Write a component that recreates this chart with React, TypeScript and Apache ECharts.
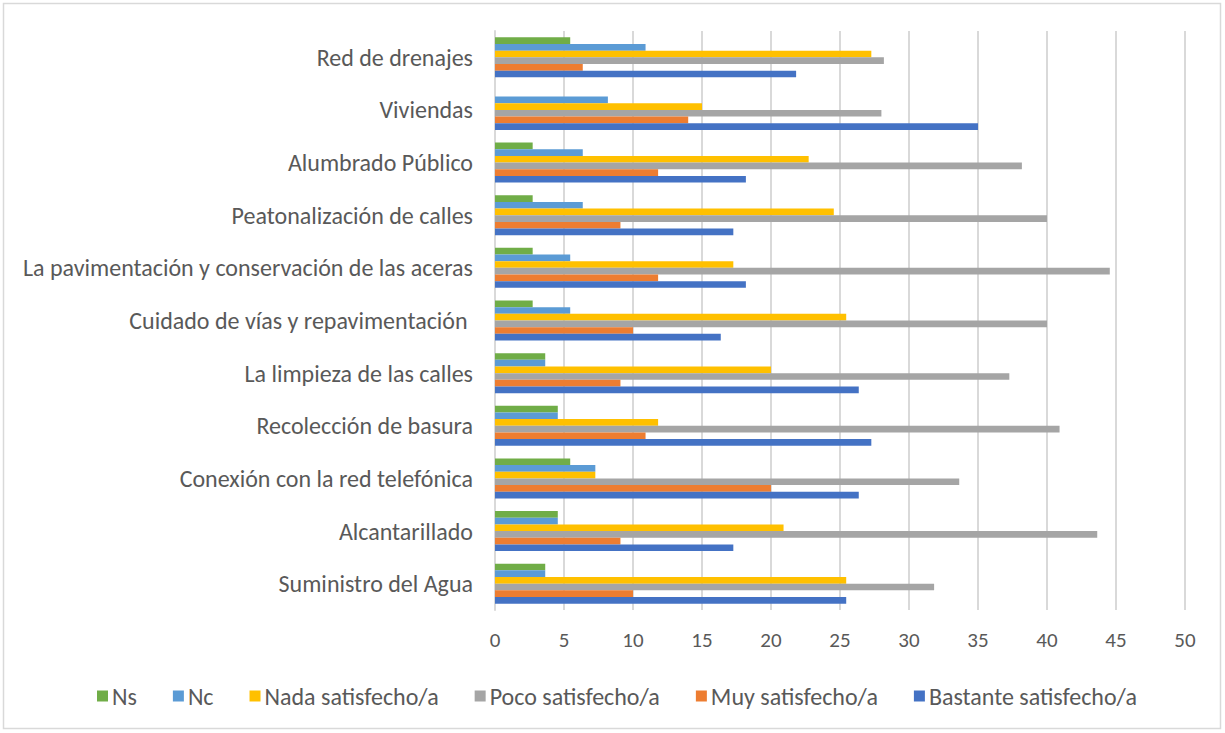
import React, { useEffect, useRef } from "react";
import * as echarts from "echarts";

const categories = [
  "Suministro del Agua",
  "Alcantarillado",
  "Conexión con la red telefónica",
  "Recolección de basura",
  "La limpieza de las calles",
  "Cuidado de vías y repavimentación ",
  "La pavimentación y conservación de las aceras",
  "Peatonalización de calles",
  "Alumbrado Público",
  "Viviendas",
  "Red de drenajes",
];

const ns = [3.64, 4.55, 5.45, 4.55, 3.64, 2.73, 2.73, 2.73, 2.73, 0, 5.45];
const nc = [3.64, 4.55, 7.27, 4.55, 3.64, 5.45, 5.45, 6.36, 6.36, 8.18, 10.91];
const nada = [25.45, 20.91, 7.27, 11.82, 20.0, 25.45, 17.27, 24.55, 22.73, 15.0, 27.27];
const poco = [31.82, 43.64, 33.64, 40.91, 37.27, 40.0, 44.55, 40.0, 38.18, 28.0, 28.18];
const muy = [10.0, 9.09, 20.0, 10.91, 9.09, 10.0, 11.82, 9.09, 11.82, 14.0, 6.36];
const bastante = [25.45, 17.27, 26.36, 27.27, 26.36, 16.36, 18.18, 17.27, 18.18, 35.0, 21.82];

const seriesNames = [
  "Ns",
  "Nc",
  "Nada satisfecho/a",
  "Poco satisfecho/a",
  "Muy satisfecho/a",
  "Bastante satisfecho/a",
];
const seriesData = [ns, nc, nada, poco, muy, bastante];
const seriesColors = ["#70AD47", "#5B9BD5", "#FFC000", "#A5A5A5", "#ED7D31", "#4472C4"];

const FONT = "Carlito, Lato, sans-serif";
const TEXT = "#595959";

export default function App() {
  const ref = useRef<HTMLDivElement>(null);
  useEffect(() => {
    if (!ref.current) return;
    const chart = echarts.init(ref.current, undefined, { renderer: "svg" });
    chart.setOption({
      animation: false,
      backgroundColor: "#ffffff",
      textStyle: { fontFamily: FONT },
      graphic: [
        {
          type: "rect",
          shape: { x: 3.5, y: 3.5, width: 1217, height: 725 },
          style: { fill: "none", stroke: "#D9D9D9", lineWidth: 1.5 },
          silent: true,
        },
      ],
      grid: { left: 495, right: 40, top: 31, bottom: 123, containLabel: false },
      legend: {
        data: seriesNames,
        left: 92,
        top: 679,
        itemWidth: 11,
        itemHeight: 11,
        itemGap: 36,
        icon: "rect",
        textStyle: { fontFamily: FONT, fontSize: 24, color: TEXT, padding: [0, 0, 0, -1] },
      },
      xAxis: {
        type: "value",
        min: 0,
        max: 50,
        interval: 5,
        axisLine: { show: false },
        axisTick: { show: false },
        splitLine: { show: true, lineStyle: { color: "#D9D9D9", width: 2 } },
        axisLabel: { fontFamily: FONT, fontSize: 21, color: TEXT, margin: 19 },
      },
      yAxis: {
        type: "category",
        data: categories,
        axisLine: { show: true, lineStyle: { color: "#D9D9D9", width: 2 } },
        axisTick: { show: false },
        axisLabel: { fontFamily: FONT, fontSize: 24, color: TEXT, margin: 22 },
      },
      series: seriesNames.map((name, i) => ({
        name,
        type: "bar",
        data: seriesData[i],
        barGap: "0%",
        barCategoryGap: "24%",
        itemStyle: { color: seriesColors[i] },
      })),
    });
    return () => chart.dispose();
  }, []);
  return (
    <div
      ref={ref}
      style={{ position: "fixed", left: 0, top: 0, width: 1225, height: 733 }}
    />
  );
}
